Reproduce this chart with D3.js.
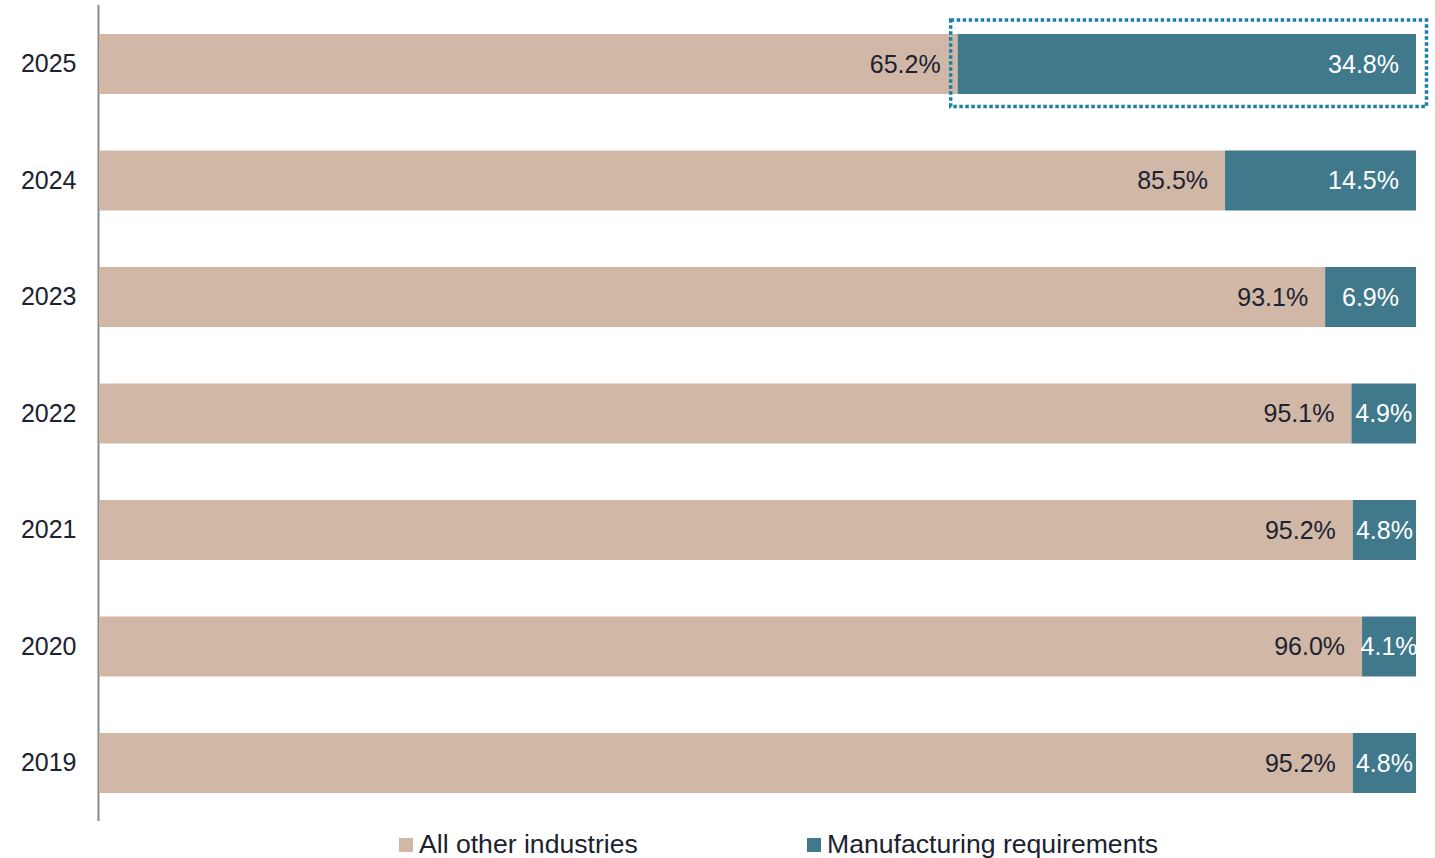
<!DOCTYPE html>
<html><head><meta charset="utf-8">
<script src="https://cdn.jsdelivr.net/npm/d3@7"></script>
<style>
html,body{margin:0;padding:0;background:#fff;}
text{font-family:"Liberation Sans",Arial,sans-serif;}
</style></head>
<body><svg id="c" width="1435" height="858"></svg>
<script>
const years = ["2025","2024","2023","2022","2021","2020","2019"];
const otherIndustries = [65.2, 85.5, 93.1, 95.1, 95.2, 96.0, 95.2];
const manufacturing = [34.8, 14.5, 6.9, 4.9, 4.8, 4.1, 4.8];
const seriesNames = ["All other industries","Manufacturing requirements"];
const highlightYear = "2025";

const colors = ["#D1B8A6","#40798C"];
const labelColors = ["#1b2230","#ffffff"];

const svg = d3.select("#c");
const table = years.map((y,i)=>({year:y, a:otherIndustries[i], b:manufacturing[i]}));
const stack = d3.stack().keys(["a","b"]).offset(d3.stackOffsetExpand);
const series = stack(table);

const x = d3.scaleLinear().domain([0,1]).range([99,1416]);
const y = d3.scaleBand().domain(years).range([5.75,821.25]).paddingInner(0.485).paddingOuter(0.2425);

// axis line + year labels
const yAxis = d3.axisLeft(y).tickSize(0).tickPadding(22);
const ga = svg.append("g").attr("transform","translate(98.5,0)").call(yAxis);
ga.select(".domain").attr("stroke","#8a8a8a").attr("stroke-width",2).attr("d",`M0,5V821`);
ga.selectAll("text").attr("font-size",25).attr("fill","#1b2230").attr("font-family","Liberation Sans, Arial, sans-serif");

const g = svg.append("g");
series.forEach((s,si)=>{
  g.selectAll(null).data(s).enter().append("rect")
    .attr("x",d=>x(d[0])).attr("width",d=>x(d[1])-x(d[0]))
    .attr("y",d=>y(d.data.year)).attr("height",y.bandwidth())
    .attr("fill",colors[si]);
});
const pad = 17;
series.forEach((s,si)=>{
  const vals = si===0?otherIndustries:manufacturing;
  s.forEach((d,i)=>{
    const x0=x(d[0]), x1=x(d[1]);
    const t = g.append("text").text(vals[i].toFixed(1)+"%")
      .attr("font-size",25).attr("fill",labelColors[si])
      .attr("y",y(d.data.year)+y.bandwidth()/2).attr("dy","0.35em");
    const w = t.node().getComputedTextLength();
    if (w + 2*pad <= x1-x0 + 2) { t.attr("x",x1-pad).attr("text-anchor","end"); }
    else { t.attr("x",(x0+x1)/2).attr("text-anchor","middle"); }
  });
});

// highlight box
const hi = series[1].find(d=>d.data.year===highlightYear);
svg.append("rect")
  .attr("x",x(hi[0])-7).attr("y",y(highlightYear)-14)
  .attr("width",x(hi[1])-x(hi[0])+17.5).attr("height",y.bandwidth()+26.5)
  .attr("fill","none").attr("stroke","#1A7FA5").attr("stroke-width",3.5)
  .attr("stroke-dasharray","3.5,2.5");

// legend
const legX = [399, 807];
seriesNames.forEach((n,i)=>{
  svg.append("rect").attr("x",legX[i]).attr("y",838).attr("width",14).attr("height",14).attr("fill",colors[i]);
  svg.append("text").attr("x",legX[i]+20).attr("y",853).attr("font-size",26.6).attr("fill","#1b2230").text(n);
});
</script></body></html>
